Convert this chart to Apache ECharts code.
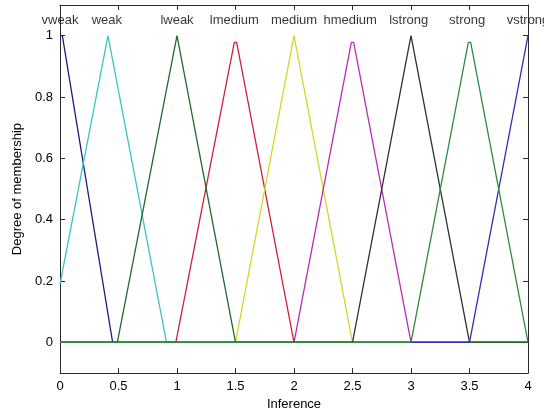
<!DOCTYPE html>
<html>
<head>
<meta charset="utf-8">
<script src="https://cdn.jsdelivr.net/npm/echarts@6/dist/echarts.min.js"></script>
<style>
  html, body { margin: 0; padding: 0; background: #fff; }
  #chart { width: 544px; height: 416px; }
</style>
</head>
<body>
<div id="chart"></div>
<script>
// Membership functions of the "Inference" variable, as [x, degree] vertices
const vweak   = [[0, 1], [0.02, 1], [0.45, 0], [4, 0]];
const weak    = [[0, 0.19], [0.41, 1], [0.91, 0], [4, 0]];
const lweak   = [[0, 0], [0.49, 0], [1, 1], [1.5, 0], [4, 0]];
const lmedium = [[0, 0], [0.99, 0], [1.49, 0.978], [1.51, 0.978], [2, 0], [4, 0]];
const medium  = [[0, 0], [1.5, 0], [2, 1], [2.5, 0], [4, 0]];
const hmedium = [[0, 0], [2, 0], [2.49, 0.978], [2.51, 0.978], [3, 0], [4, 0]];
const lstrong = [[0, 0], [2.5, 0], [3, 1], [3.5, 0], [4, 0]];
const strong  = [[0, 0], [3, 0], [3.49, 0.978], [3.51, 0.978], [4, 0]];
const vstrong = [[0, 0], [3.5, 0], [4, 1]];

// Term names and where each one is written above its peak
const termNames = ['vweak', 'weak', 'lweak', 'lmedium', 'medium', 'hmedium', 'lstrong', 'strong', 'vstrong'];
const termLabelX = [0, 0.40, 1, 1.49, 2, 2.48, 2.98, 3.48, 4];
const termLabelY = 1.05;

// Axis ticks
const xTicks = [0, 0.5, 1, 1.5, 2, 2.5, 3, 3.5, 4];
const yTicks = [0, 0.2, 0.4, 0.6, 0.8, 1];

const FONT = 'Liberation Sans, Arial, sans-serif';
const TEXT_COLOR = '#000';
const AXIS_COLOR = '#2b2b2b';

// Drawing order: the last series paints the shared zero line on top
const curves = [
  { name: 'vweak',   data: vweak,   color: '#1c1c80' },
  { name: 'weak',    data: weak,    color: '#3cc4c4' },
  { name: 'lmedium', data: lmedium, color: '#d0203c' },
  { name: 'medium',  data: medium,  color: '#d6d628' },
  { name: 'hmedium', data: hmedium, color: '#b82cb8' },
  { name: 'lstrong', data: lstrong, color: '#303030' },
  { name: 'lweak',   data: lweak,   color: '#1f6a2c' },
  { name: 'vstrong', data: vstrong, color: '#3030b0' },
  { name: 'strong',  data: strong,  color: '#2e8a3e' }
];

const chart = echarts.init(document.getElementById('chart'), null, { renderer: 'canvas' });

const series = curves.map(c => ({
  type: 'line',
  name: c.name,
  data: c.data,
  showSymbol: false,
  symbol: 'none',
  animation: false,
  lineStyle: { color: c.color, width: 1.3 },
  itemStyle: { color: c.color },
  z: 3
}));

series.push({
  type: 'scatter',
  name: 'terms',
  data: termNames.map((n, i) => ({ value: [termLabelX[i], termLabelY], name: n })),
  symbolSize: 0,
  silent: true,
  animation: false,
  label: {
    show: true,
    position: 'inside',
    formatter: p => p.name,
    color: TEXT_COLOR,
    fontFamily: FONT,
    fontSize: 13
  },
  z: 5
});

const baseX = {
  type: 'value',
  min: 0,
  max: 4,
  interval: 0.5,
  splitLine: { show: false },
  axisLine: { show: true, onZero: false, lineStyle: { color: AXIS_COLOR, width: 1 } },
  axisTick: { show: true, inside: true, length: 5, lineStyle: { color: AXIS_COLOR }, customValues: xTicks }
};

const baseY = {
  type: 'value',
  min: -0.1,
  max: 1.1,
  splitLine: { show: false },
  axisLine: { show: true, onZero: false, lineStyle: { color: AXIS_COLOR, width: 1 } },
  axisTick: { show: true, inside: true, length: 5, lineStyle: { color: AXIS_COLOR }, customValues: yTicks }
};

chart.setOption({
  backgroundColor: '#fff',
  animation: false,
  grid: { left: 60, right: 16, top: 5, bottom: 39, containLabel: false },
  xAxis: [
    Object.assign({}, baseX, {
      position: 'bottom',
      name: 'Inference',
      nameLocation: 'middle',
      nameGap: 23,
      nameTextStyle: { color: TEXT_COLOR, fontFamily: FONT, fontSize: 13 },
      axisLabel: {
        show: true, margin: 7, color: TEXT_COLOR, fontFamily: FONT, fontSize: 13,
        customValues: xTicks, formatter: v => String(v)
      }
    }),
    Object.assign({}, baseX, { position: 'top', axisLabel: { show: false } })
  ],
  yAxis: [
    Object.assign({}, baseY, {
      position: 'left',
      name: 'Degree of membership',
      nameLocation: 'middle',
      nameGap: 35,
      nameTextStyle: { color: TEXT_COLOR, fontFamily: FONT, fontSize: 13 },
      axisLabel: {
        show: true, margin: 7, color: TEXT_COLOR, fontFamily: FONT, fontSize: 13,
        customValues: yTicks, formatter: v => String(Math.round(v * 10) / 10)
      }
    }),
    Object.assign({}, baseY, { position: 'right', axisLabel: { show: false } })
  ],
  series: series
});
</script>
</body>
</html>
